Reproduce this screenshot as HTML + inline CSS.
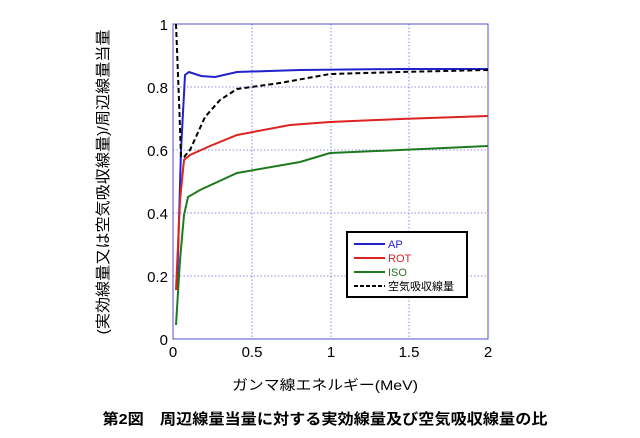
<!DOCTYPE html><html><head><meta charset="utf-8"><style>body{margin:0;background:#fff}svg{display:block}text{font-family:"Liberation Sans","Noto Sans CJK JP",sans-serif}</style></head><body>
<svg width="640" height="438" viewBox="0 0 640 438">
<g stroke="#6a6ae0" stroke-width="0.8" stroke-dasharray="1.5,2" fill="none">
<line x1="252" y1="24" x2="252" y2="339"/><line x1="331" y1="24" x2="331" y2="339"/><line x1="409" y1="24" x2="409" y2="339"/>
<line x1="173" y1="87" x2="488" y2="87"/><line x1="173" y1="150" x2="488" y2="150"/><line x1="173" y1="213" x2="488" y2="213"/><line x1="173" y1="276" x2="488" y2="276"/>
</g>
<rect x="173" y="24" width="315" height="315" fill="none" stroke="#5050d0" stroke-width="1"/>
<g font-size="15" fill="#000">
<text x="168" y="30" text-anchor="end">1</text><text x="168" y="93" text-anchor="end">0.8</text><text x="168" y="156" text-anchor="end">0.6</text><text x="168" y="219" text-anchor="end">0.4</text><text x="168" y="282" text-anchor="end">0.2</text><text x="168" y="345" text-anchor="end">0</text>
<text x="173" y="357" text-anchor="middle">0</text><text x="252" y="357" text-anchor="middle">0.5</text><text x="331" y="357" text-anchor="middle">1</text><text x="409" y="357" text-anchor="middle">1.5</text><text x="488" y="357" text-anchor="middle">2</text>
</g>
<g fill="none" stroke-width="2">
<polyline stroke="#2222cc" points="177,290 181,150 185,75 189,72 201,76 215,77 237,72 300,70 400,69 488,69"/>
<polyline stroke="#dd2222" points="176,290 180,200 184,160 190,155 210,146 237,135 290,125 330,122 400,119 488,116"/>
<polyline stroke="#1e7a1e" points="176,325 180,260 184,215 188,197 200,190 237,173 300,162 330,153 400,150 488,146"/>
<polyline stroke="#000" stroke-dasharray="5,3" points="176,24 179,100 181,157 184,157 190,150 205,117 220,100 237,89 280,83 330,74 400,72 488,70"/>
</g>
<rect x="347" y="232" width="120" height="65" fill="#fff" stroke="#000" stroke-width="2"/>
<g stroke-width="2"><line x1="354" y1="244" x2="385" y2="244" stroke="#2222cc"/><line x1="354" y1="258" x2="385" y2="258" stroke="#dd2222"/><line x1="354" y1="272" x2="385" y2="272" stroke="#1e7a1e"/><line x1="354" y1="286" x2="385" y2="286" stroke="#000" stroke-dasharray="4,2"/></g>
<g font-size="11"><text x="388" y="248" fill="#2222cc">AP</text><text x="388" y="262" fill="#dd2222">ROT</text><text x="388" y="276" fill="#1e7a1e">ISO</text><text x="388" y="290" fill="#000">空気吸収線量</text></g>
<text x="325" y="390" font-size="14" text-anchor="middle" textLength="186" lengthAdjust="spacingAndGlyphs">ガンマ線エネルギー(MeV)</text>
<text x="325" y="424" font-size="15" font-weight="bold" text-anchor="middle" textLength="445" lengthAdjust="spacingAndGlyphs">第2図　周辺線量当量に対する実効線量及び空気吸収線量の比</text>
<text transform="translate(108,182) rotate(-90)" font-size="15" text-anchor="middle" textLength="305" lengthAdjust="spacingAndGlyphs">(実効線量又は空気吸収線量)/周辺線量当量</text>
</svg></body></html>
